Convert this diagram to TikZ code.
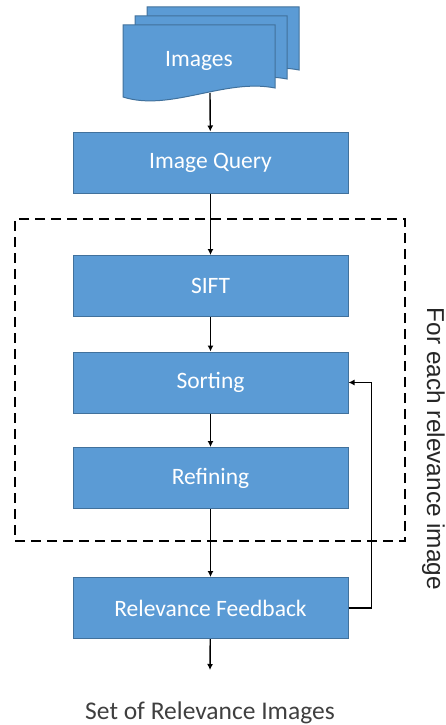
\documentclass[tikz,border=0pt]{standalone}
\usepackage{fontspec}
\setmainfont{Carlito}
\newfontfamily\sidefont{Liberation Sans}
\usetikzlibrary{arrows.meta}
\definecolor{boxblue}{HTML}{5B9BD5}
\definecolor{boxedge}{HTML}{41719C}
\definecolor{txtgray}{HTML}{3F3F3F}
\tikzset{
    stepbox/.style={draw=boxedge,fill=boxblue,line width=1pt,minimum width=275pt,minimum height=61pt,inner sep=0pt,text=white,font=\fontsize{23.5}{28}\selectfont},
    docpage/.style={draw=boxedge,fill=boxblue,line width=1pt},
    flow/.style={-{Latex[length=6pt,width=6pt]},black,line width=1.4pt},
    loopframe/.style={draw=black,line width=2pt,dash pattern=on 10pt off 6pt,minimum width=390pt,minimum height=322pt,inner sep=0pt}
}
\begin{document}
\begin{tikzpicture}[x=1pt,y=1pt]
        \useasboundingbox (0,0) rectangle (445,-725);
        \foreach \d in {24,12,0} {
            \draw[docpage,shift={(\d,0.75*\d)}] (123,-25) -- (275,-25) -- (275,-88) .. controls (225,-78) and (170,-112) .. (123,-97) -- cycle; %pages
        }
        \node[text=white,font=\fontsize{23.5}{28}\selectfont] at (199,-61) (images){Images};
        \coordinate (imgbot) at (210,-93);

        \node[loopframe] at (210,-380) (loop){};
        \node[stepbox] at (210.5,-162.5) (query){Image Query};
        \node[stepbox] at (210.5,-286) (sift){SIFT};
        \node[stepbox] at (210.5,-382.5) (sorting){Sorting};
        \node[stepbox] at (210.5,-478) (refining){Refining};
        \node[stepbox] at (210.5,-608) (feedback){Relevance Feedback};
        \coordinate (out) at (210,-670);
        \node[text=txtgray,font=\fontsize{25.5}{30}\selectfont] at (210,-713) (result){Set of Relevance Images};
        \node[font=\sidefont\fontsize{24.4}{28}\selectfont,text=black!85,rotate=-90,anchor=base,inner sep=0pt] at (427,-449) (each){For each relevance image};

        \draw[flow] (imgbot) -- (query); %images-query
        \draw[flow] (query) -- (sift); %query-sift
        \draw[flow] (sift) -- (sorting); %sift-sorting
        \draw[flow] (sorting) -- (refining); %sorting-refining
        \draw[flow] (refining) -- (feedback); %refining-feedback
        \draw[flow] (feedback) -- (out); %feedback-out
        \draw[flow] (feedback.east) -- ++(23,0) |- (sorting.east); %loop back
    \end{tikzpicture}
\end{document}
